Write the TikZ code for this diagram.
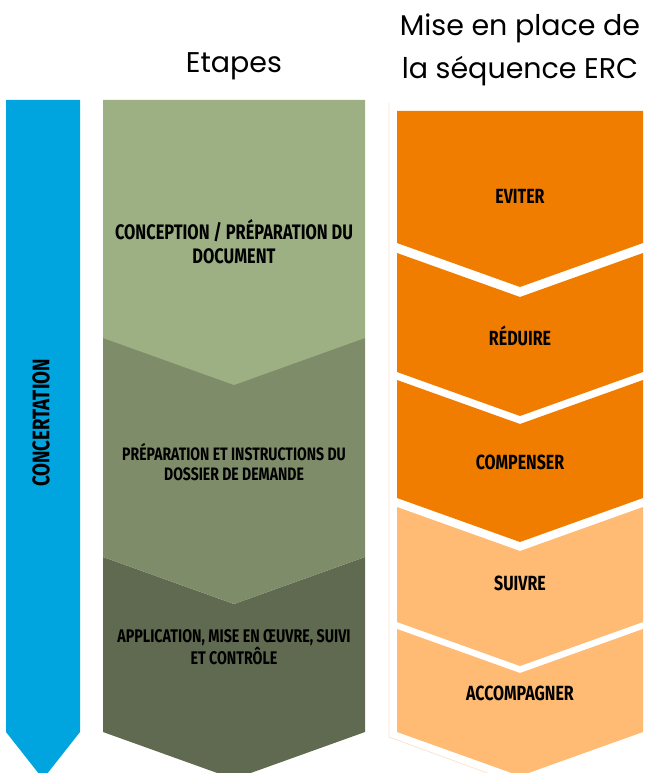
\documentclass[tikz,border=0pt]{standalone}
\usepackage{fontspec}
\setmainfont{Poppins}
\newfontfamily\labfont[FakeStretch=0.78]{Fira Sans}
\definecolor{blueC}{RGB}{0,165,224}
\definecolor{greenA}{RGB}{157,176,132}
\definecolor{greenB}{RGB}{127,140,106}
\definecolor{greenC}{RGB}{96,106,80}
\definecolor{orangeA}{RGB}{240,125,0}
\definecolor{orangeB}{RGB}{255,187,115}
\definecolor{faint}{RGB}{251,228,206}
\tikzset{
  lab/.style={text=black, align=center, inner sep=0pt},
  title/.style={font=\fontsize{28.5}{43}\selectfont, text=black, align=center, inner sep=0pt}
}
\begin{document}
\begin{tikzpicture}[x=1pt,y=-1pt]
\useasboundingbox (0,0) rectangle (645,773);
\clip (0,0) rectangle (645,773);
% blue arrow
\fill[blueC] (6,100) -- (80,100) -- (80,732) -- (43,779) -- (6,732) -- cycle;
% green chevrons
\fill[greenC] (103,557) -- (234,604) -- (365,557) -- (365,732) -- (234,779) -- (103,732) -- cycle;
\fill[greenB] (103,338) -- (365,338) -- (365,557) -- (234,604) -- (103,557) -- cycle;
\fill[greenA] (103,100) -- (365,100) -- (365,338) -- (234,385) -- (103,338) -- cycle;
% faint outline
\draw[faint, line width=0.8pt] (389,103) -- (389,737) -- (520,785);
% orange chevrons
\fill[orangeA] (397,111) -- (643,111) -- (643,243) -- (520,287) -- (397,243) -- cycle;
\fill[orangeA] (397,253) -- (520,297) -- (643,253) -- (643,372) -- (520,416) -- (397,372) -- cycle;
\fill[orangeA] (397,380) -- (520,424) -- (643,380) -- (643,498) -- (520,542) -- (397,498) -- cycle;
\fill[orangeB] (397,507) -- (520,551) -- (643,507) -- (643,622) -- (520,666) -- (397,622) -- cycle;
\fill[orangeB] (397,629) -- (520,673) -- (643,629) -- (643,732) -- (520,776) -- (397,732) -- cycle;
% titles
\node[title] (t1) at (234,66) {Etapes};
\node[title] (t2) at (520,50) {Mise en place de\\la séquence ERC};
% labels
\node[lab, font=\labfont\bfseries\fontsize{24}{24}\selectfont, rotate=90] (conc) at (41,423) {CONCERTATION};
\node[lab, font=\labfont\bfseries\fontsize{21}{24}\selectfont] (s1) at (234,242) {CONCEPTION / PRÉPARATION DU\\DOCUMENT};
\node[lab, font=\labfont\bfseries\fontsize{18}{20}\selectfont] (s2) at (234,462) {PRÉPARATION ET INSTRUCTIONS DU\\DOSSIER DE DEMANDE};
\node[lab, font=\labfont\bfseries\fontsize{18.3}{20}\selectfont] (s3) at (234,647) {APPLICATION, MISE EN ŒUVRE, SUIVI\\ET CONTRÔLE};
\node[lab, font=\labfont\bfseries\fontsize{20.5}{24}\selectfont] (e1) at (520,196) {EVITER};
\node[lab, font=\labfont\bfseries\fontsize{20.5}{24}\selectfont] (e2) at (520,336) {RÉDUIRE};
\node[lab, font=\labfont\bfseries\fontsize{20.5}{24}\selectfont] (e3) at (520,462) {COMPENSER};
\node[lab, font=\labfont\bfseries\fontsize{20.5}{24}\selectfont] (e4) at (520,583) {SUIVRE};
\node[lab, font=\labfont\bfseries\fontsize{20.5}{24}\selectfont] (e5) at (520,693) {ACCOMPAGNER};
\end{tikzpicture}
\end{document}
